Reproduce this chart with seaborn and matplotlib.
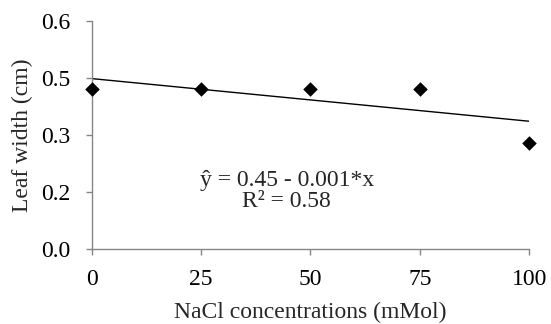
import numpy as np
import pandas as pd
import matplotlib
matplotlib.use("Agg")
import matplotlib.pyplot as plt
import seaborn as sns

# data
nacl = [0, 25, 50, 75, 100]
leaf_width = [0.42, 0.42, 0.42, 0.42, 0.28]
x_ticks = [0, 25, 50, 75, 100]
y_ticks = [0, 0.15, 0.30, 0.45, 0.60]
y_tick_labels = ['0.0', '0.2', '0.3', '0.5', '0.6']
eq_text = 'ŷ = 0.45 - 0.001*x\nR² = 0.58'

df = pd.DataFrame({'nacl': nacl, 'leaf_width': leaf_width})

sns.set_style('ticks')
plt.rcParams['font.family'] = ['Liberation Serif', 'DejaVu Serif']

fig = plt.figure(figsize=(5.51, 3.24), dpi=100)
ax = fig.add_axes([0.1664, 0.2306, 0.7942, 0.7056])

sns.regplot(data=df, x='nacl', y='leaf_width', ci=None, ax=ax, marker='D',
            scatter_kws={'color': 'black', 's': 55, 'clip_on': False, 'zorder': 3,
                         'linewidths': 0, 'alpha': 1},
            line_kws={'color': 'black', 'lw': 1})

ax.set_xlim(0, 100)
ax.set_ylim(0, 0.6)
ax.set_xticks(x_ticks)
ax.set_yticks(y_ticks)
ax.set_yticklabels(y_tick_labels)

grey = '#868686'
sns.despine(ax=ax)
for s in ['left', 'bottom']:
    ax.spines[s].set_color(grey)
    ax.spines[s].set_linewidth(1)
ax.tick_params(axis='both', colors=grey, labelcolor='black', labelsize=17,
               length=4, width=1)
ax.tick_params(axis='x', pad=10)
ax.tick_params(axis='y', pad=11)

ax.set_xlabel('NaCl concentrations (mMol)', fontsize=17, labelpad=8.5)
ax.set_ylabel('Leaf width (cm)', fontsize=17, labelpad=6)

ax.text(44.6, 0.153, eq_text, ha='center', va='center', fontsize=17,
        linespacing=1.0)

fig.savefig('out.png', dpi=100)
